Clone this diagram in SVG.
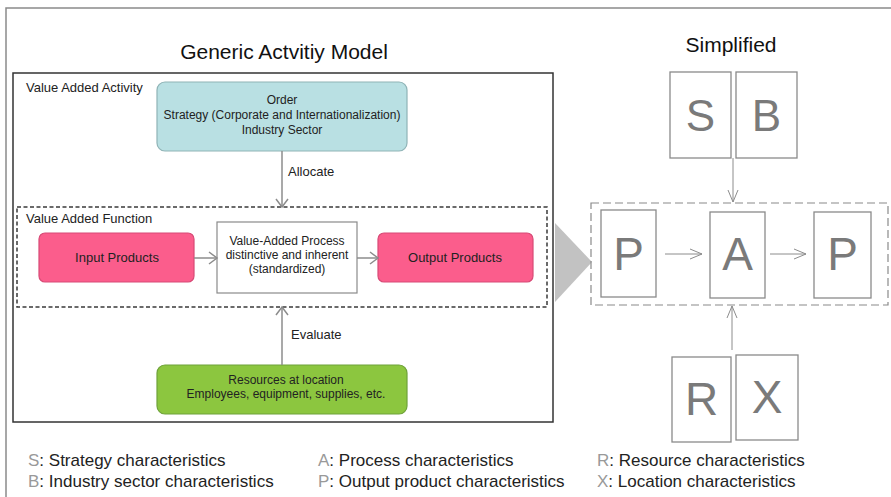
<svg xmlns="http://www.w3.org/2000/svg" width="891" height="497" viewBox="0 0 891 497">
<style>
text{font-family:"Liberation Sans",Arial,sans-serif;}
.t12{font-size:12px;fill:#222;text-anchor:middle;}
.t13{font-size:13px;fill:#222;}
.title{font-size:21px;fill:#111;text-anchor:middle;}
.big{font-size:46px;fill:#7a7a7a;text-anchor:middle;}
.sbox{fill:#fff;stroke:#8a8a8a;stroke-width:1.3;}
.leg{font-size:17px;fill:#222;}
.lk{fill:#999;}
.cl{stroke:#8c8c8c;stroke-width:1.5;fill:none;}
.cr{stroke:#8c8c8c;stroke-width:1;fill:none;}
</style>
<defs>
<marker id="ah" markerUnits="userSpaceOnUse" markerWidth="14" markerHeight="16" refX="9" refY="7" orient="auto" viewBox="0 0 14 14">
<path d="M1,1 L9,7 L1,13" fill="none" stroke="#8c8c8c" stroke-width="1.5"/>
</marker>
<marker id="ahr" markerUnits="userSpaceOnUse" markerWidth="16" markerHeight="14" refX="13" refY="6" orient="auto" viewBox="0 0 16 12">
<path d="M1,1 L13,6 L1,11" fill="none" stroke="#8c8c8c" stroke-width="1"/>
</marker>
</defs>
<g id="frame">
<path d="M6,497 L6,8 L891,8" fill="none" stroke="#8a8a8a" stroke-width="1.5"/>
</g>
<g id="title-left"><text class="title" x="284" y="59">Generic Actvitiy Model</text></g>
<g id="title-right"><text class="title" x="731" y="52">Simplified</text></g>
<g id="activity">
<rect x="13" y="73" width="540" height="349" fill="#fff" stroke="#333" stroke-width="1.5"/>
<text class="t13" x="26" y="92">Value Added Activity</text>
</g>
<g id="function">
<rect x="17" y="207" width="530" height="100" fill="none" stroke="#3a3a3a" stroke-width="1.5" stroke-dasharray="4 2.5"/>
<text class="t13" x="26" y="223">Value Added Function</text>
</g>
<g id="order">
<rect x="157" y="82" width="250" height="69" rx="8" fill="#b9e0e3" stroke="#8fb3b6" stroke-width="1.2"/>
<text class="t12" x="282" y="104">Order</text>
<text class="t12" x="282" y="119">Strategy (Corporate and Internationalization)</text>
<text class="t12" x="282" y="134">Industry Sector</text>
</g>
<g id="input">
<rect x="39" y="233" width="155" height="49" rx="6" fill="#fb5d8c" stroke="#d84a76" stroke-width="1.2"/>
<text class="t13" x="117" y="262" text-anchor="middle">Input Products</text>
</g>
<g id="process">
<rect x="217" y="222" width="140" height="71" fill="#fff" stroke="#8a8a8a" stroke-width="1.2"/>
<text class="t12" x="287" y="245">Value-Added Process</text>
<text class="t12" x="287" y="259">distinctive and inherent</text>
<text class="t12" x="287" y="273">(standardized)</text>
</g>
<g id="output">
<rect x="378" y="233" width="155" height="49" rx="6" fill="#fb5d8c" stroke="#d84a76" stroke-width="1.2"/>
<text class="t13" x="455" y="262" text-anchor="middle">Output Products</text>
</g>
<g id="resources">
<rect x="157" y="365" width="250" height="49" rx="8" fill="#8cc63f" stroke="#6fa23a" stroke-width="1.2"/>
<text class="t12" x="286" y="384">Resources at location</text>
<text class="t12" x="286" y="398">Employees, equipment, supplies, etc.</text>
</g>
<g id="big-arrow"><polygon points="555,223 592,262 555,302" fill="#c2c2c2"/></g>
<g id="S"><rect class="sbox" x="670" y="72" width="61" height="86"/><text class="big" x="700.5" y="131" style="font-size:44px">S</text></g>
<g id="B"><rect class="sbox" x="736" y="72" width="61" height="86"/><text class="big" x="766.5" y="131" style="font-size:44px">B</text></g>
<g id="simple-box"><rect x="591" y="203" width="297" height="102" fill="none" stroke="#8a8a8a" stroke-width="1.2" stroke-dasharray="8 4"/></g>
<g id="P1"><rect class="sbox" x="601" y="210" width="55" height="87"/><text class="big" x="628.5" y="270">P</text></g>
<g id="A"><rect class="sbox" x="710" y="212" width="55" height="86"/><text class="big" x="737.5" y="270">A</text></g>
<g id="P2"><rect class="sbox" x="814" y="212" width="57" height="86"/><text class="big" x="842.5" y="270">P</text></g>
<g id="R"><rect class="sbox" x="672" y="357" width="59" height="85"/><text class="big" x="701.5" y="415">R</text></g>
<g id="X"><rect class="sbox" x="736" y="355" width="62" height="85"/><text class="big" x="767" y="413">X</text></g>
<g id="connectors">
<line class="cl" x1="282" y1="151" x2="282" y2="207" marker-end="url(#ah)"/>
<line class="cl" x1="282" y1="365" x2="282" y2="307" marker-end="url(#ah)"/>
<line class="cl" x1="194" y1="258" x2="217" y2="258" marker-end="url(#ah)"/>
<line class="cl" x1="357" y1="258" x2="378" y2="258" marker-end="url(#ah)"/>
<line class="cr" x1="733" y1="158" x2="733" y2="202" marker-end="url(#ahr)"/>
<line class="cr" x1="732" y1="350" x2="732" y2="306" marker-end="url(#ahr)"/>
<line class="cr" x1="665" y1="254" x2="702" y2="254" marker-end="url(#ahr)"/>
<line class="cr" x1="770" y1="254" x2="806" y2="254" marker-end="url(#ahr)"/>
</g>
<g id="labels">
<text class="t13" x="288" y="176">Allocate</text>
<text class="t13" x="291" y="339">Evaluate</text>
</g>
<g id="legend">
<text class="leg" x="28" y="466"><tspan class="lk">S</tspan>: Strategy characteristics</text>
<text class="leg" x="28" y="487"><tspan class="lk">B</tspan>: Industry sector characteristics</text>
<text class="leg" x="318" y="466"><tspan class="lk">A</tspan>: Process characteristics</text>
<text class="leg" x="318" y="487"><tspan class="lk">P</tspan>: Output product characteristics</text>
<text class="leg" x="597" y="466"><tspan class="lk">R</tspan>: Resource characteristics</text>
<text class="leg" x="597" y="487"><tspan class="lk">X</tspan>: Location characteristics</text>
</g>
</svg>
